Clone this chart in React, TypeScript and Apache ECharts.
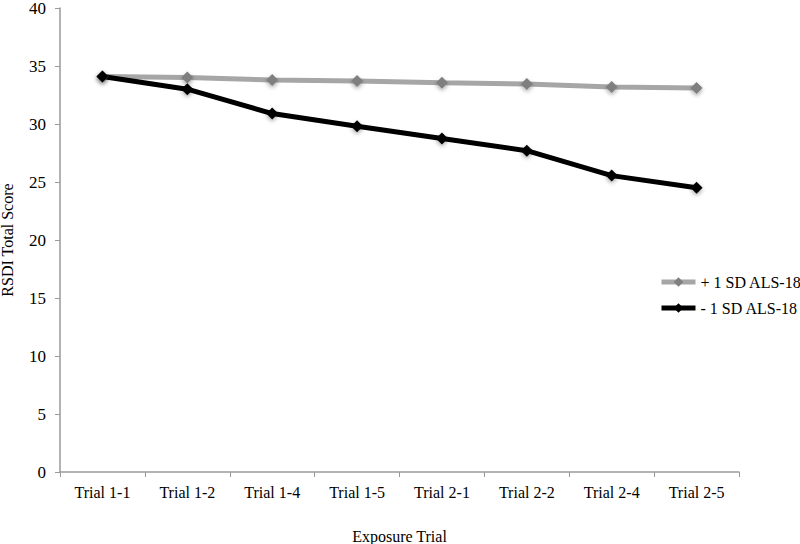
import React, { useEffect, useRef } from "react";
import * as echarts from "echarts";

const categories = ["Trial 1-1", "Trial 1-2", "Trial 1-4", "Trial 1-5", "Trial 2-1", "Trial 2-2", "Trial 2-4", "Trial 2-5"];
const plusSD = [34.1, 34.0, 33.8, 33.7, 33.55, 33.45, 33.2, 33.1];
const minusSD = [34.1, 33.0, 30.9, 29.8, 28.75, 27.7, 25.55, 24.5];
const seriesNames = ["+ 1 SD ALS-18", "- 1 SD ALS-18"];

const FONT = "'Liberation Serif', 'Times New Roman', Times, serif";

export default function App() {
  const ref = useRef<HTMLDivElement>(null);
  useEffect(() => {
    const chart = echarts.init(ref.current!, null, { renderer: "svg" });
    chart.setOption({
      animation: false,
      backgroundColor: "#ffffff",
      textStyle: { fontFamily: FONT, color: "#000" },
      grid: { left: 60, right: 61, top: 8, bottom: 72, containLabel: false, outerBoundsMode: "none" },
      legend: {
        orient: "vertical",
        left: 654,
        top: 269,
        itemWidth: 34,
        itemHeight: 12,
        itemGap: 10,
        lineStyle: { width: 5 },
        textStyle: { fontFamily: FONT, fontSize: 16, color: "#000" },
        data: seriesNames,
      },
      xAxis: {
        type: "category",
        data: categories,
        boundaryGap: true,
        name: "Exposure Trial",
        nameLocation: "middle",
        nameGap: 56,
        nameTextStyle: { fontFamily: FONT, fontSize: 16, color: "#000" },
        axisLine: { lineStyle: { color: "#9a9a9a", width: 1.5 } },
        axisTick: { show: true, length: 5, lineStyle: { color: "#9a9a9a" } },
        axisLabel: { fontFamily: FONT, fontSize: 16, color: "#000", margin: 12 },
      },
      yAxis: {
        type: "value",
        min: 0,
        max: 40,
        interval: 5,
        name: "RSDI Total Score",
        nameLocation: "middle",
        nameGap: 45,
        nameTextStyle: { fontFamily: FONT, fontSize: 16, color: "#000" },
        axisLine: { show: true, lineStyle: { color: "#9a9a9a", width: 1.5 } },
        axisTick: { show: true, length: 5, lineStyle: { color: "#9a9a9a" } },
        splitLine: { show: false },
        axisLabel: { fontFamily: FONT, fontSize: 17, lineHeight: 12, color: "#000", margin: 14 },
      },
      series: [
        {
          name: seriesNames[0],
          type: "line",
          data: plusSD,
          symbol: "diamond",
          symbolSize: 12,
          lineStyle: { color: "#a6a6a6", width: 5 },
          itemStyle: { color: "#7f7f7f", shadowBlur: 4, shadowColor: "rgba(0,0,0,0.35)", shadowOffsetY: 2 },
          color: "#a6a6a6",
        },
        {
          name: seriesNames[1],
          type: "line",
          data: minusSD,
          symbol: "diamond",
          symbolSize: 12,
          lineStyle: { color: "#000000", width: 5 },
          itemStyle: { color: "#000000", shadowBlur: 4, shadowColor: "rgba(0,0,0,0.35)", shadowOffsetY: 2 },
          color: "#000000",
        },
      ],
    });
    return () => chart.dispose();
  }, []);
  return <div ref={ref} style={{ width: 800, height: 544, position: "absolute", left: 0, top: 0 }} />;
}
